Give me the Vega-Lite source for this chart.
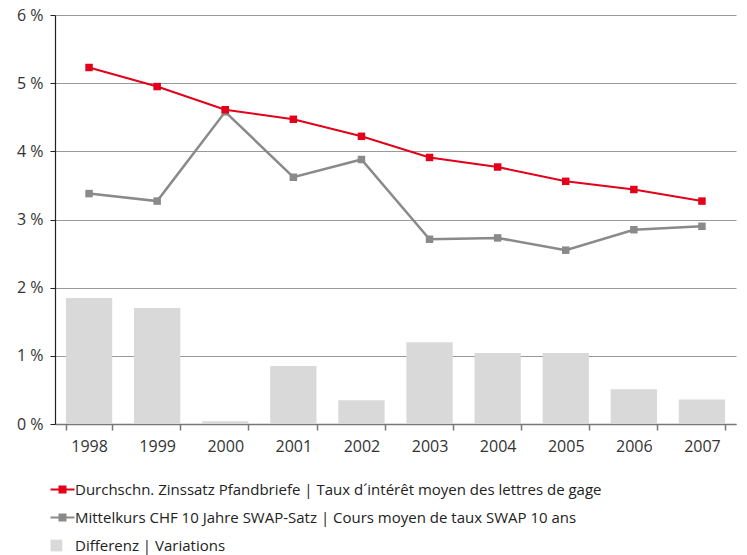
{
  "$schema": "https://vega.github.io/schema/vega-lite/v6.json",
  "width": 681,
  "height": 409,
  "autosize": {"type": "none"},
  "padding": {"left": 55, "top": 15, "right": 11, "bottom": 131},
  "background": "white",
  "config": {
    "font": "Open Sans",
    "view": {"stroke": null},
    "axis": {"labelFontSize": 16, "labelColor": "#333333", "titleFontSize": 14, "labelFont": "Open Sans"}
  },
  "data": {
    "values": [
      {"year": "1998", "pfandbrief": 5.23, "swap": 3.38, "diff": 1.85},
      {"year": "1999", "pfandbrief": 4.95, "swap": 3.27, "diff": 1.70},
      {"year": "2000", "pfandbrief": 4.61, "swap": 4.58, "diff": 0.04},
      {"year": "2001", "pfandbrief": 4.47, "swap": 3.62, "diff": 0.85},
      {"year": "2002", "pfandbrief": 4.22, "swap": 3.88, "diff": 0.35},
      {"year": "2003", "pfandbrief": 3.91, "swap": 2.71, "diff": 1.20},
      {"year": "2004", "pfandbrief": 3.77, "swap": 2.73, "diff": 1.04},
      {"year": "2005", "pfandbrief": 3.56, "swap": 2.55, "diff": 1.04},
      {"year": "2006", "pfandbrief": 3.44, "swap": 2.85, "diff": 0.51},
      {"year": "2007", "pfandbrief": 3.27, "swap": 2.90, "diff": 0.36}
    ]
  },
  "encoding": {
    "x": {
      "field": "year",
      "type": "ordinal",
      "scale": {"type": "band", "paddingInner": 0.32, "paddingOuter": 0.16},
      "axis": {
        "title": null,
        "labelAngle": 0,
        "grid": false,
        "domainColor": "#777777",
        "domainWidth": 1.5,
        "tickColor": "#777777",
        "tickWidth": 1.5,
        "tickSize": 6,
        "tickBand": "extent",
        "labelPadding": 8
      }
    }
  },
  "layer": [
    {
      "mark": {"type": "bar", "color": "#d9d9da"},
      "encoding": {
        "y": {
          "field": "diff",
          "type": "quantitative",
          "scale": {"domain": [0, 6], "nice": false},
          "axis": {
            "title": null,
            "values": [0, 1, 2, 3, 4, 5, 6],
            "labelExpr": "datum.value + ' %'",
            "grid": true,
            "gridColor": "#999999",
            "gridWidth": 1.2,
            "domainColor": "#222222",
            "domainWidth": 1.2,
            "tickColor": "#222222",
            "tickSize": 5,
            "labelPadding": 7
          }
        },
        "color": {
          "datum": "Differenz | Variations",
          "scale": {
            "domain": [
              "Durchschn. Zinssatz Pfandbriefe | Taux d´intérêt moyen des lettres de gage",
              "Mittelkurs CHF 10 Jahre SWAP-Satz | Cours moyen de taux SWAP 10 ans",
              "Differenz | Variations"
            ],
            "range": ["#e2001a", "#8a8a8a", "#d9d9da"]
          },
          "legend": {
            "orient": "none",
            "legendX": 0,
            "legendY": 467,
            "title": null,
            "padding": 0,
            "symbolSize": 576,
            "labelFontSize": 15,
            "labelFont": "Open Sans",
            "labelColor": "#222222",
            "labelOffset": 5,
            "rowPadding": 12,
            "labelLimit": 700,
            "encode": {
              "symbols": {
                "update": {
                  "shape": {"signal": "datum.value === 'Differenz | Variations' ? 'M-1,-0.49H-0.02V0.49H-1Z' : 'M-1,0H1M-0.25,-0.25H0.25V0.25H-0.25Z'"},
                  "fill": {"signal": "datum.value === 'Differenz | Variations' ? '#d9d9da' : (indexof(datum.value, 'Durchschn') === 0 ? '#e2001a' : '#8a8a8a')"},
                  "stroke": {"signal": "datum.value === 'Differenz | Variations' ? '#d9d9da' : (indexof(datum.value, 'Durchschn') === 0 ? '#e2001a' : '#8a8a8a')"},
                  "strokeWidth": {"signal": "datum.value === 'Differenz | Variations' ? 0 : 2"},
                  "opacity": {"value": 1},
                  "fillOpacity": {"value": 1},
                  "strokeOpacity": {"value": 1}
                }
              }
            }
          }
        }
      }
    },
    {
      "mark": {"type": "line", "strokeWidth": 2.5},
      "encoding": {
        "y": {"field": "swap", "type": "quantitative"},
        "color": {"datum": "Mittelkurs CHF 10 Jahre SWAP-Satz | Cours moyen de taux SWAP 10 ans"}
      }
    },
    {
      "mark": {"type": "point", "shape": "square", "filled": true, "size": 56, "opacity": 1},
      "encoding": {
        "y": {"field": "swap", "type": "quantitative"},
        "color": {"datum": "Mittelkurs CHF 10 Jahre SWAP-Satz | Cours moyen de taux SWAP 10 ans"}
      }
    },
    {
      "mark": {"type": "line", "strokeWidth": 2},
      "encoding": {
        "y": {"field": "pfandbrief", "type": "quantitative"},
        "color": {"datum": "Durchschn. Zinssatz Pfandbriefe | Taux d´intérêt moyen des lettres de gage"}
      }
    },
    {
      "mark": {"type": "point", "shape": "square", "filled": true, "size": 56, "opacity": 1},
      "encoding": {
        "y": {"field": "pfandbrief", "type": "quantitative"},
        "color": {"datum": "Durchschn. Zinssatz Pfandbriefe | Taux d´intérêt moyen des lettres de gage"}
      }
    }
  ]
}
